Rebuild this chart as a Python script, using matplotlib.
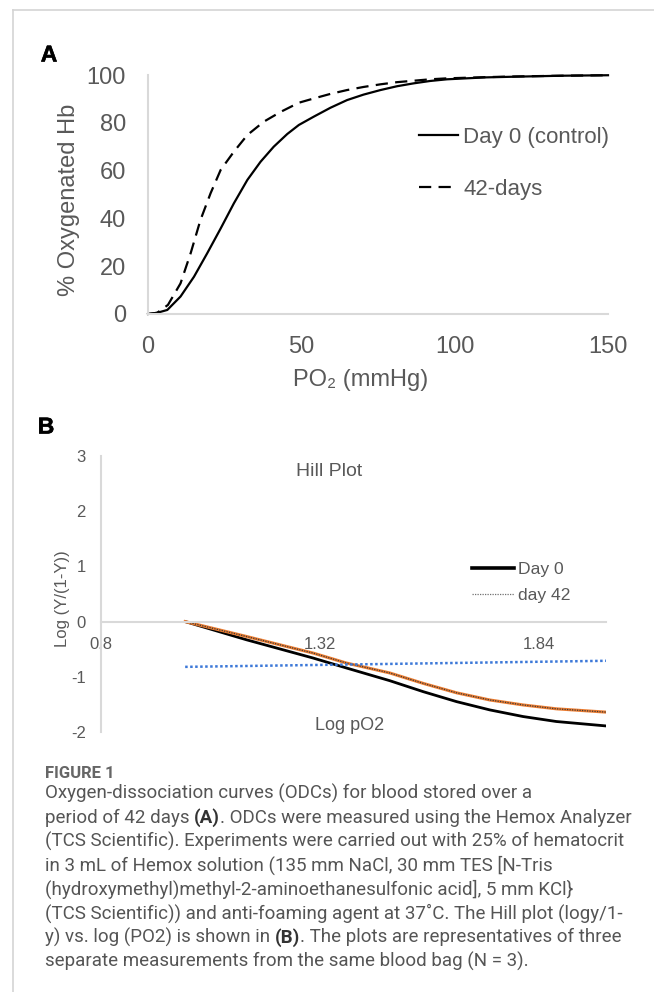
#! /usr/bin/env python
import matplotlib
matplotlib.use('Agg')
import matplotlib.pyplot as plt
import matplotlib.patheffects as pe
from matplotlib.lines import Line2D

# constants
W, H = 654, 992
GREY = '#595959'
AXIS_GREY = '#d9d9d9'
SANS = ['Liberation Sans', 'DejaVu Sans']
CAP = ['Roboto', 'Noto Sans', 'DejaVu Sans']

plt.rcParams['axes.unicode_minus'] = False

# panel A: oxygen dissociation curves
po2_day0 = [0, 3, 6.3, 10.6, 15, 19.3, 23.7, 28, 32.4, 36.7, 41, 45.4,
            49.2, 54.1, 59.5, 64.9, 70.3, 75.8, 81.2, 86.6, 92, 97.5,
            110, 120, 135, 150]
sat_day0 = [0, 0.5, 1.7, 7.3, 15.6, 25.4, 35.8, 46.3, 56.1, 63.7, 70, 75.3,
            79.1, 82.6, 86.3, 89.5, 91.8, 93.7, 95.3, 96.5, 97.5, 98.2,
            99.0, 99.3, 99.7, 99.9]
po2_day42 = [0, 3, 6.5, 10.6, 13.9, 17.1, 20.4, 23.7, 28, 32.4, 37.8, 43.3,
             49.2, 54.1, 59.5, 64.9, 70.3, 75.8, 81.2, 86.6, 92, 97.5,
             110, 120, 135, 150]
sat_day42 = [0, 0.5, 3.8, 12.8, 25.4, 39.3, 50.5, 60.3, 67.9, 74.9, 80.5, 84.6,
             88.4, 90.2, 92.1, 93.7, 95.0, 96.1, 97.0, 97.6, 98.2, 98.6,
             99.1, 99.4, 99.7, 99.9]
a_xticks = [0, 50, 100, 150]
a_yticks = [0, 20, 40, 60, 80, 100]

# panel B: Hill plot
log_po2 = [1.0, 1.146, 1.304, 1.383, 1.486, 1.566, 1.645, 1.724, 1.803, 1.882, 2.0]
hill_day0 = [0, -0.33, -0.66, -0.84, -1.07, -1.27, -1.45, -1.60, -1.72, -1.81, -1.89]
hill_day42 = [0, -0.27, -0.57, -0.75, -0.93, -1.12, -1.29, -1.42, -1.51, -1.58, -1.64]
trend_x = [1.0, 2.0]
trend_y = [-0.82, -0.71]
b_xticks = [0.8, 1.32, 1.84]
b_xticklabels = ['0.8', '1.32', '1.84']
b_yticks = [-2, -1, 0, 1, 2, 3]

caption_lines = [
    [('Oxygen-dissociation curves (ODCs) for blood stored over a', False)],
    [('period of 42 days', False), (' (A)', True),
     ('. ODCs were measured using the Hemox Analyzer', False)],
    [('(TCS Scientific). Experiments were carried out with 25% of hematocrit', False)],
    [('in 3 mL of Hemox solution (135 mm NaCl, 30 mm TES [N-Tris', False)],
    [('(hydroxymethyl)methyl-2-aminoethanesulfonic acid], 5 mm KCl}', False)],
    [('(TCS Scientific)) and anti-foaming agent at 37\u02daC. The Hill plot (logy/1-', False)],
    [('y) vs. log (PO2) is shown in', False), (' (B)', True),
     ('. The plots are representatives of three', False)],
    [('separate measurements from the same blood bag (N = 3).', False)],
]


def fx(px):
    return px / W


def fy(py):
    return 1 - py / H


def style_axis(ax, size, pad_x, pad_y):
    for side in ['top', 'right']:
        ax.spines[side].set_visible(False)
    for side in ['left', 'bottom']:
        ax.spines[side].set_color(AXIS_GREY)
        ax.spines[side].set_linewidth(1.5)
    ax.tick_params(axis='both', length=0, labelsize=size, labelcolor=GREY)
    ax.tick_params(axis='x', pad=pad_x)
    ax.tick_params(axis='y', pad=pad_y)
    for lab in ax.get_xticklabels() + ax.get_yticklabels():
        lab.set_family(SANS)


fig = plt.figure(figsize=(W / 100, H / 100), dpi=100)

# page frame
fig.add_artist(Line2D([fx(13), fx(13)], [fy(10), 0], color='#d4d4d4', lw=1.2))
fig.add_artist(Line2D([fx(13), 1], [fy(10), fy(10)], color='#d4d4d4', lw=1.2))

# ---------- panel A ----------
ax1 = fig.add_axes([fx(148), fy(314), (608 - 148) / W, (314 - 75) / H])
ax1.plot(po2_day0, sat_day0, color='black', lw=1.6, label='Day 0 (control)',
         clip_on=False)
ax1.plot(po2_day42, sat_day42, color='black', lw=1.6, dashes=(5.5, 3.3),
         label='42-days', clip_on=False)
ax1.set_xlim(0, 150)
ax1.set_ylim(0, 100)
ax1.set_xticks(a_xticks)
ax1.set_yticks(a_yticks)
style_axis(ax1, 17, 15.5, 16)
leg1 = ax1.legend(loc='upper left', bbox_to_anchor=(fx(419), fy(127)),
                  bbox_transform=fig.transFigure, frameon=False,
                  borderpad=0, borderaxespad=0, handlelength=1.76,
                  handletextpad=0.22, labelspacing=1.4,
                  prop={'family': SANS, 'size': 16})
for t in leg1.get_texts():
    t.set_color(GREY)

fig.text(fx(49), fy(55), 'A', fontsize=16.5, fontweight='bold', family=SANS,
         ha='center', va='center',
         path_effects=[pe.withStroke(linewidth=0.4, foreground='black')])
fig.text(fx(69), fy(200), '% Oxygenated Hb', fontsize=17, color=GREY,
         family=SANS, rotation=90, ha='center', va='center')
fig.text(fx(361), fy(380), 'PO\u2082 (mmHg)', fontsize=17, color=GREY,
         family=SANS, ha='center', va='center')

# ---------- panel B ----------
ax2 = fig.add_axes([fx(101), fy(732), (606 - 101) / W, (732 - 456) / H])
ax2.plot(log_po2, hill_day0, color='black', lw=2.0, label='Day 0')
ax2.plot(log_po2, hill_day42, color='#ED7D31', lw=2.2)
ax2.plot(log_po2, hill_day42, color='#3a3a3a', lw=0.9, ls=(0, (1, 1)),
         label='day 42')
ax2.plot(trend_x, trend_y, color='#3C78D8', lw=1.8, ls=(0, (1, 1)))
ax2.set_xlim(0.8, 2.0)
ax2.set_ylim(-2, 3)
ax2.spines['bottom'].set_position(('data', 0))
ax2.set_xticks(b_xticks)
ax2.set_xticklabels(b_xticklabels)
ax2.set_yticks(b_yticks)
style_axis(ax2, 12, 11, 11)
leg2 = ax2.legend(loc='upper left', bbox_to_anchor=(fx(472), fy(562)),
                  bbox_transform=fig.transFigure, frameon=False,
                  borderpad=0, borderaxespad=0, handlelength=2.4,
                  handletextpad=0.23, labelspacing=0.6,
                  prop={'family': SANS, 'size': 12.6})
for t in leg2.get_texts():
    t.set_color(GREY)
for h in leg2.get_lines():
    if h.get_label() == 'Day 0':
        h.set_linewidth(2.6)
    else:
        h.set_color('#707070')

fig.text(fx(46), fy(427), 'B', fontsize=16.5, fontweight='bold', family=SANS,
         ha='center', va='center',
         path_effects=[pe.withStroke(linewidth=0.4, foreground='black')])
fig.text(fx(329), fy(472), 'Hill Plot', fontsize=14, color=GREY, family=SANS,
         ha='center', va='center')
fig.text(fx(350), fy(725), 'Log pO2', fontsize=13, color=GREY, family=SANS,
         ha='center', va='center')
fig.text(fx(62), fy(599), 'Log (Y/(1-Y))', fontsize=12, color=GREY,
         family=SANS, rotation=90, ha='center', va='center')

# ---------- caption ----------
fig.text(fx(45), fy(774), 'FIGURE 1', fontsize=12, fontweight='bold',
         color='#666666', family=CAP, ha='left', va='center')

renderer = fig.canvas.get_renderer()


def text_width(s, size, bold):
    t = fig.text(0, 0, s, fontsize=size, family=CAP,
                 fontweight='bold' if bold else 'normal')
    w = t.get_window_extent(renderer).width
    t.remove()
    return w


# fit the widest caption line into the column
cap_size = 12
widest = text_width(caption_lines[2][0][0], cap_size, False)
cap_size = cap_size * 578 / widest
space_w = text_width('a a', cap_size, False) - text_width('aa', cap_size, False)

for i, parts in enumerate(caption_lines):
    x = 45
    y = 799 + 23.9 * i
    for s, bold in parts:
        if s.startswith(' '):
            x += space_w
            s = s[1:]
        t = fig.text(fx(x), fy(y), s, fontsize=cap_size, family=CAP,
                     fontweight='bold' if bold else 'normal',
                     color='#333333' if bold else '#555555',
                     ha='left', va='baseline')
        x += t.get_window_extent(renderer).width

fig.savefig('out.png', dpi=100)
